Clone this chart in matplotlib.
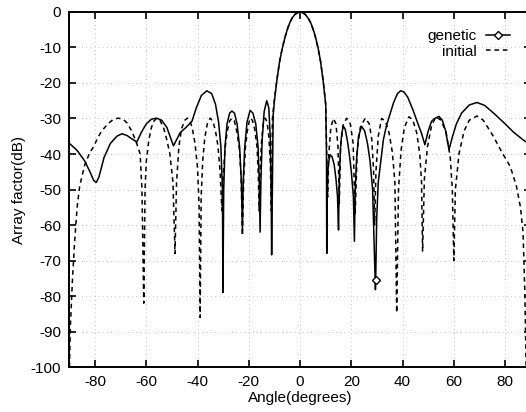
import numpy as np
import matplotlib
matplotlib.use('Agg')
from matplotlib import pyplot as plt

# genetic (solid) pattern: angle (deg), level (dB)
genetic_angle = [-90, -87, -84, -82, -80.5, -79.5, -78.5, -76.5, -74, -71.5, -69.5, -67.5, -65.5, -63.7,
                 -62, -60, -58, -56, -54, -52, -50.5, -49.4, -48.2, -46.8, -44.5, -42.2, -40.5, -38.5,
                 -36.4, -34.5, -33, -31.8, -30.9, -30.3, -30.1, -29.8, -29.3, -28.5, -27.5, -26.6, -25.6,
                 -24.6, -23.6, -22.9, -22.5, -22.2, -21.6, -20.7, -19.5, -18.4, -17.3, -16.4, -15.9, -15.6,
                 -15.3, -14.8, -14, -13, -12.2, -11.6, -11.3, -11.1, -10.5, -10, -9, -8, -7, -6, -5, -4,
                 -3, -2, -1, 0, 1, 2, 3, 4, 5, 6, 7, 8, 9, 10, 10.3, 10.4, 10.6, 11, 11.7, 12.5, 13.3, 14,
                 14.6, 15, 15.3, 15.8, 16.3, 16.9, 17.6, 18.4, 19.2, 20, 20.8, 21.2, 21.5, 22, 22.8, 24,
                 25.2, 26.3, 27.3, 28.3, 29.4, 29.5, 29.9, 30.5, 31.5, 32.5, 33.7, 35, 36.5, 38, 39.2, 40.5,
                 42, 44, 46, 47.4, 48.7, 50, 51.3, 52.5, 54.2, 55.5, 56.8, 58.1, 59.5, 61, 63, 66, 69, 72,
                 76, 80, 83.2, 87, 90]
genetic_db = [-37, -39, -42, -45, -47.5, -48, -46.5, -41, -37, -35, -34.3, -34.8, -35.8, -36.6,
              -34, -31.5, -30.2, -29.9, -30.5, -32.5, -35.5, -37.7, -36, -34, -32.5, -30.8, -27, -23.5,
              -22.2, -23, -26, -31, -38, -50, -79, -50, -38, -31.5, -28.5, -27.9, -28.5,
              -31.5, -38, -48, -61.5, -48, -38, -31, -27.7, -28.5, -31.5, -38, -48, -62,
              -48, -36, -28, -25, -27, -36, -50, -68.4, -29, -25, -19, -14, -10.5, -7.5, -5, -3,
              -1.6, -0.7, -0.2, 0, -0.2, -0.7, -1.6, -2.8, -4.6, -7, -10, -14, -19.5, -26, -40, -68, -50, -43, -40.2, -40.8, -43, -47,
              -52, -61.4, -47, -38, -34, -32.2, -33, -36, -40, -45, -52, -64.6, -50, -42, -35, -32.2,
              -33.5, -37, -42, -50, -78.2, -75.5, -58, -48, -42, -36, -32, -29, -25.5, -23, -22.2, -22.5,
              -24, -27.5, -31.5, -34.2, -37.4, -33.5, -30.8, -30, -29.4, -30.5, -33.5, -38.8, -35, -31.5, -28.5, -26.2, -25.5, -26.3,
              -28.8, -31.5, -33.8, -36, -37.5]

# initial (dashed) pattern
initial_angle = [-90, -89.6, -88.8, -88, -87, -86, -84, -82, -80.6, -79, -77.4, -75, -73, -71, -69, -67.5,
                 -65.7, -64, -62.4, -61.7, -61, -60.5, -60, -59, -58, -57, -55.9, -54.7, -53.3, -52, -50.8,
                 -49.6, -48.8, -48.2, -47.3, -46.3, -45, -44, -43, -42, -41, -40, -39.4, -39, -38.6, -38,
                 -37.2, -36.2, -35.1, -34, -33, -32, -31.2, -30.5, -30, -29.2, -28.4, -27.5, -26.6, -25.6,
                 -24.6, -23.6, -23, -22.5, -22, -21.3, -20.4, -19.5, -18.6, -17.7, -16.8, -16.3, -16, -15.6,
                 -15, -14.3, -13.6, -12.9, -12.2, -11.6, -11.2, -10.8, -10, -9, -8, -7, -6, -5, -4, -3, -2,
                 -1, 0, 1, 2, 3, 4, 5, 6, 7, 8, 9, 10, 10.4, 10.8, 11.2, 12, 13, 14, 14.8, 15.3, 15.8, 16.7,
                 18.2, 19.6, 20.7, 21.5, 22.3, 23.5, 25.4, 27, 28, 28.7, 29.1, 29.6, 30.5, 31.8, 33.3, 34.7,
                 36, 37, 37.7, 38.4, 39.4, 40.7, 42.5, 44, 45.5, 46.7, 47.4, 47.8, 48.5, 49.7, 51.3, 53,
                 55, 57, 58.6, 59.4, 60, 60.6, 62, 64, 66, 69, 71.5, 75.4, 78.5, 82, 84.4, 86, 87, 87.7, 88.2]
initial_db = [-100, -88, -75, -65, -55, -49, -43, -39.5, -38, -35.5, -33.5, -31.5, -30.3, -29.9, -30.2, -31.3,
              -33.5, -36.5, -40, -50, -82, -50, -42, -36, -32.5, -30.7, -29.9, -30.5, -32.5, -36, -40,
              -48, -68, -48, -38, -33, -30.5, -29.9, -30.5, -33, -37, -44, -55, -86, -52, -42,
              -35.5, -31.5, -29.9, -30.8, -33.5, -38, -45, -56, -46, -38, -33.5, -30.7, -29.9, -30.8,
              -34, -39, -47, -63, -47, -38, -32.5, -29.9, -30.5, -33, -38, -46, -56, -44,
              -36, -31, -29.9, -31, -35, -43, -56, -30, -24.5, -18.8, -14, -10.3, -7.3, -4.9, -2.9, -1.6, -0.7,
              -0.2, 0, -0.2, -0.7, -1.6, -2.9, -4.8, -7.2, -10.2, -14, -19.2, -26, -40, -52, -40, -32.5, -30, -31.5, -38, -54, -38, -32,
              -29.9, -31.5, -37, -57, -39, -32.5, -29.9, -31.5, -36, -45, -60, -45, -35, -30, -30.7, -34,
              -39.5, -48, -84.7, -50, -39, -32.5, -29.5, -30.5, -34, -40, -48, -67.5, -47, -38, -32, -29.5,
              -30.5, -34, -41, -50, -70, -50, -40, -33.5, -30.5, -29.3, -30.5, -35, -39.2, -43.5, -49, -55, -62, -79, -100]

x_ticks = [-80, -60, -40, -20, 0, 20, 40, 60, 80]
y_ticks = [0, -10, -20, -30, -40, -50, -60, -70, -80, -90, -100]

plt.rcParams['font.family'] = ['Liberation Sans', 'DejaVu Sans']
plt.rcParams['axes.unicode_minus'] = False

fig = plt.figure(figsize=(5.26, 4.12), dpi=100)
ax = fig.add_axes([0.132, 0.109, 0.877, 0.862])

# one diamond sits on the deep null near 30 deg
mark_idx = genetic_angle.index(29.5)
ax.plot(genetic_angle, genetic_db, color='k', linewidth=1.1, marker='D', markersize=4,
        markerfacecolor='w', markeredgecolor='k', markevery=[mark_idx], label='genetic')
ax.plot(initial_angle, initial_db, color='k', linewidth=1.1, linestyle=(0, (3, 2.5)), label='initial')

ax.set_xlim(-90, 90)
ax.set_ylim(-100, 0)
ax.set_xticks(x_ticks)
ax.set_yticks(y_ticks)
ax.tick_params(direction='in', length=5, width=1.2, top=True, right=True, labelsize=11, pad=6)
for s in ax.spines.values():
    s.set_linewidth(1.4)
ax.grid(True, color='0.7', linestyle=(0, (1, 4)), linewidth=0.6)

ax.set_xlabel('Angle(degrees)', fontsize=11, labelpad=1)
ax.set_ylabel('Array factor(dB)', fontsize=11, labelpad=3)

leg = ax.legend(loc='upper right', bbox_to_anchor=(0.985, 0.99), frameon=False, markerfirst=False,
                handlelength=1.6, handletextpad=0.6, labelspacing=0.1, fontsize=11)

fig.savefig('out.png', dpi=100)
